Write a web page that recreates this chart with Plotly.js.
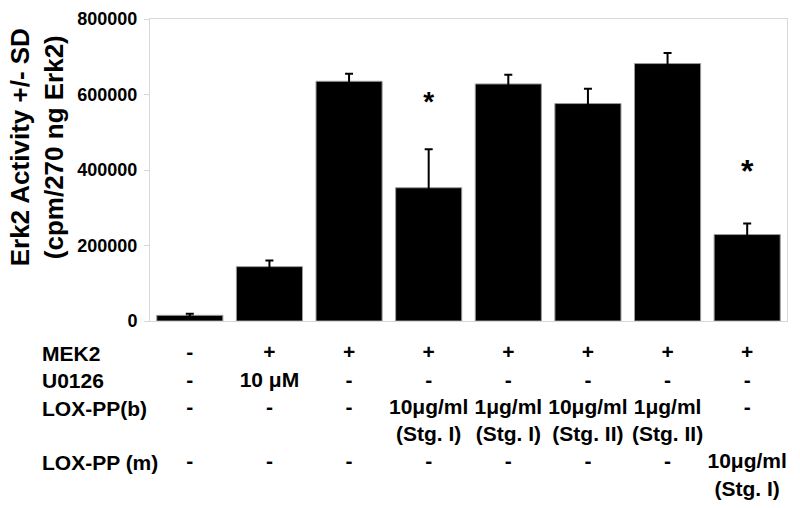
<!DOCTYPE html>
<html>
<head>
<meta charset="utf-8">
<script src="https://cdn.plot.ly/plotly-3.0.1.min.js"></script>
<style>html,body{margin:0;padding:0;background:#fff;}#chart{width:800px;height:508px;}</style>
</head>
<body>
<div id="chart"></div>
<script>
// Data
var categories = ['C1','C2','C3','C4','C5','C6','C7','C8'];
var erk2Activity = [15000, 144000, 635000, 353000, 628000, 576000, 682000, 229000];
var erk2SD = [4000, 16000, 20000, 102000, 24000, 39000, 28000, 29000];
var starY = [null, null, null, 574000, null, null, null, 390000];
var starText = ['', '', '', '*', '', '', '', '*'];
var starSize = [28, 28, 28, 28, 28, 28, 28, 32];

var rowLabels = ['MEK2', 'U0126', 'LOX-PP(b)', ' ', 'LOX-PP (m)', ' '];
var mek2 = ['-', '+', '+', '+', '+', '+', '+', '+'];
var u0126 = ['-', '10 μM', '-', '-', '-', '-', '-', '-'];
var loxB1 = ['-', '-', '-', '10μg/ml', '1μg/ml', '10μg/ml', '1μg/ml', '-'];
var loxB2 = [' ', ' ', ' ', '(Stg. I)', '(Stg. I)', '(Stg. II)', '(Stg. II)', ' '];
var loxM1 = ['-', '-', '-', '-', '-', '-', '-', '10μg/ml'];
var loxM2 = [' ', ' ', ' ', ' ', ' ', ' ', ' ', '(Stg. I)'];
var yTicks = [0, 200000, 400000, 600000, 800000];
var yTickText = ['0', '200000', '400000', '600000', '800000'];

var tickText = categories.map(function (c, i) {
  return [mek2[i], u0126[i], loxB1[i], loxB2[i], loxM1[i], loxM2[i]].join('<br>');
});

var FONT = 'Liberation Sans, Arial, sans-serif';

var bars = {
  type: 'bar',
  x: categories,
  y: erk2Activity,
  marker: {color: '#000000', line: {color: '#9a9a9a', width: 1}},
  error_y: {type: 'data', array: erk2SD, visible: true, color: '#000000', thickness: 2, width: 4},
  hoverinfo: 'none',
  showlegend: false
};

var stars = {
  type: 'scatter',
  mode: 'text',
  x: categories,
  y: starY,
  text: starText,
  textposition: 'middle center',
  textfont: {family: FONT, size: starSize, color: '#000000', weight: 'bold'},
  hoverinfo: 'none',
  showlegend: false
};

var layout = {
  width: 800,
  height: 508,
  margin: {l: 150, r: 13, t: 19, b: 187},
  paper_bgcolor: '#ffffff',
  plot_bgcolor: '#ffffff',
  bargap: 0.17,
  font: {family: FONT, color: '#000000'},
  xaxis: {
    type: 'category',
    tickmode: 'array',
    tickvals: categories,
    ticktext: tickText,
    tickangle: 0,
    tickfont: {family: FONT, size: 21, color: '#000000', weight: 'bold'},
    ticklabelstandoff: 12,
    showline: true, linecolor: '#d8d8d8', linewidth: 1, mirror: true,
    ticks: '', showgrid: false, zeroline: false,
    fixedrange: true
  },
  yaxis: {
    range: [0, 800000],
    tickmode: 'array',
    tickvals: yTicks,
    ticktext: yTickText,
    tickfont: {family: FONT, size: 18, color: '#000000', weight: 'bold'},
    showline: true, linecolor: '#d8d8d8', linewidth: 1, mirror: true,
    ticks: 'outside', ticklen: 5, tickcolor: '#d8d8d8', tickwidth: 1,
    ticklabelstandoff: 3,
    showgrid: false, zeroline: false,
    fixedrange: true
  },
  annotations: [
    {
      xref: 'paper', yref: 'paper', x: -0.177, y: 0.576,
      xanchor: 'center', yanchor: 'middle',
      text: 'Erk2 Activity +/- SD<br>(cpm/270 ng Erk2)',
      textangle: -90, showarrow: false,
      font: {family: FONT, size: 26, color: '#000000', weight: 'bold'}
    },
    {
      xref: 'paper', yref: 'paper', x: -0.172, y: -0.062,
      xanchor: 'left', yanchor: 'top', align: 'left',
      text: rowLabels.join('<br>'),
      showarrow: false,
      font: {family: FONT, size: 21, color: '#000000', weight: 'bold'}
    }
  ]
};

Plotly.newPlot('chart', [bars, stars], layout, {displayModeBar: false, staticPlot: true});
</script>
</body>
</html>
